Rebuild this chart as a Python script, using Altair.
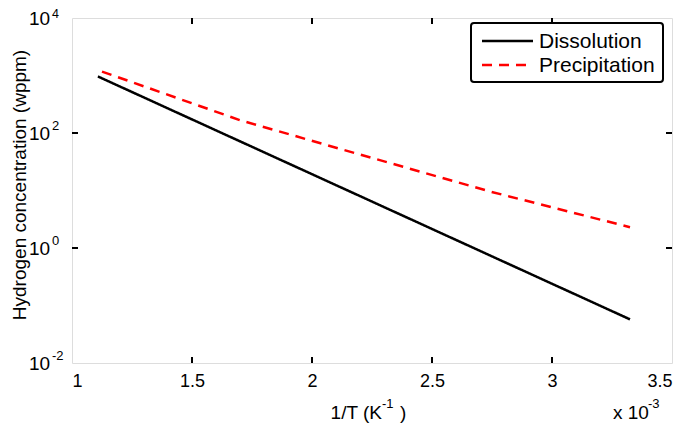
import altair as alt
import pandas as pd

# Data (x in units of 1e-3 K^-1)
diss_x = [1.108, 1.94, 3.325]
diss_y = [962, 25, 0.0574]
prec_x = [1.125, 1.70, 2.117, 2.742, 3.325]
prec_y = [1170, 167, 53, 9.6, 2.30]

series_names = ["Dissolution", "Precipitation"]
series_colors = ["black", "#ff0000"]
series_dash = [[1, 0], [10, 7]]

x_ticks = [1, 1.5, 2, 2.5, 3, 3.5]
x_inner_ticks = [1.5, 2, 2.5, 3]
y_ticks = [1e4, 1e2, 1e0, 1e-2]
y_exps = ["4", "2", "0", "-2"]
y_inner_ticks = [1e2, 1e0]

FONT = "Liberation Sans"
W, H = 600, 345

df = pd.DataFrame(
    {"x": diss_x + prec_x,
     "y": diss_y + prec_y,
     "series": [series_names[0]] * len(diss_x) + [series_names[1]] * len(prec_x),
     "order": list(range(len(diss_x))) + list(range(len(prec_x)))}
)

xs = alt.Scale(domain=[1, 3.5], nice=False, zero=False)
ys = alt.Scale(type="log", domain=[0.01, 10000], nice=False)

lines = alt.Chart(df).mark_line(strokeWidth=2.5).encode(
    x=alt.X("x:Q", scale=xs,
            axis=alt.Axis(values=x_ticks, format="~g", ticks=False, domain=False, grid=False,
                          labelFont=FONT, labelFontSize=18, labelColor="black",
                          labelPadding=9, title=None)),
    y=alt.Y("y:Q", scale=ys, axis=None),
    order="order:Q",
    color=alt.Color("series:N", scale=alt.Scale(domain=series_names, range=series_colors), legend=None),
    strokeDash=alt.StrokeDash("series:N", scale=alt.Scale(domain=series_names, range=series_dash), legend=None),
)

xt = pd.DataFrame({"x": x_inner_ticks})
yt = pd.DataFrame({"y": y_inner_ticks})
tick_style = dict(color="black", strokeWidth=2)
xb = alt.Chart(xt).mark_rule(**tick_style).encode(x=alt.X("x:Q", scale=xs), y=alt.value(H), y2=alt.value(H - 6))
xtp = alt.Chart(xt).mark_rule(**tick_style).encode(x=alt.X("x:Q", scale=xs), y=alt.value(0), y2=alt.value(6))
yl = alt.Chart(yt).mark_rule(**tick_style).encode(y=alt.Y("y:Q", scale=ys), x=alt.value(0), x2=alt.value(6))
yr = alt.Chart(yt).mark_rule(**tick_style).encode(y=alt.Y("y:Q", scale=ys), x=alt.value(W), x2=alt.value(W - 6))

ylab = pd.DataFrame({"y": y_ticks, "e": y_exps})
ten = alt.Chart(ylab).mark_text(font=FONT, fontSize=19, align="left", baseline="middle", color="black", dy=1).encode(
    y=alt.Y("y:Q", scale=ys), x=alt.value(-43), text=alt.value("10"))
exp_top = alt.Chart(ylab).transform_filter("datum.y >= 10000").mark_text(
    font=FONT, fontSize=12.5, align="left", baseline="middle", color="black", dy=-4).encode(
    y=alt.Y("y:Q", scale=ys), x=alt.value(-20), text="e:N")
exp_rest = alt.Chart(ylab).transform_filter("datum.y < 10000").mark_text(
    font=FONT, fontSize=13, align="left", baseline="middle", color="black", dy=-7).encode(
    y=alt.Y("y:Q", scale=ys), x=alt.value(-20), text="e:N")

one = pd.DataFrame({"a": [0]})
def txt(s, x, y, size=19, align="left", angle=0, baseline="middle"):
    kw = dict(font=FONT, fontSize=size, align=align, baseline=baseline, color="black")
    if angle:
        kw["angle"] = angle
    return alt.Chart(one).mark_text(**kw).encode(x=alt.value(x), y=alt.value(y), text=alt.value(s))

ytitle = txt("Hydrogen concentration (wppm)", -46, 167, size=19, align="center", angle=270, baseline="alphabetic")
xt1 = txt("1/T (K", 310, 395, align="right")
xt2 = txt("-1", 310, 386, size=13)
xt3 = txt(")", 328, 395)
xm1 = txt("x 10", 541, 395)
xm2 = txt("-3", 576, 386, size=13)

# legend drawn by hand, like the reference's boxed legend
box = alt.Chart(one).mark_rect(fill="white", stroke="black", strokeWidth=2, cornerRadius=3).encode(
    x=alt.value(399), x2=alt.value(591), y=alt.value(5), y2=alt.value(64))
leg_rows = []
for i, (name, col, dash) in enumerate(zip(series_names, series_colors, series_dash)):
    yy = 23 + 24 * i
    leg_rows.append(alt.Chart(one).mark_rule(color=col, strokeWidth=2.5, strokeDash=dash).encode(
        x=alt.value(410), x2=alt.value(461), y=alt.value(yy)))
    leg_rows.append(txt(name, 467, yy + 1, size=21))

chart = alt.layer(lines, xb, xtp, yl, yr, ten, exp_top, exp_rest, ytitle, xt1, xt2, xt3, xm1, xm2,
                  box, *leg_rows).properties(
    width=W, height=H,
    autosize=alt.AutoSizeParams(type="none"),
    padding={"left": 64, "top": 10, "right": 5, "bottom": 60},
).configure_view(stroke="black", strokeWidth=3).configure(background="white")

chart.save("out.html", embed_options={"renderer": "svg", "actions": False})
